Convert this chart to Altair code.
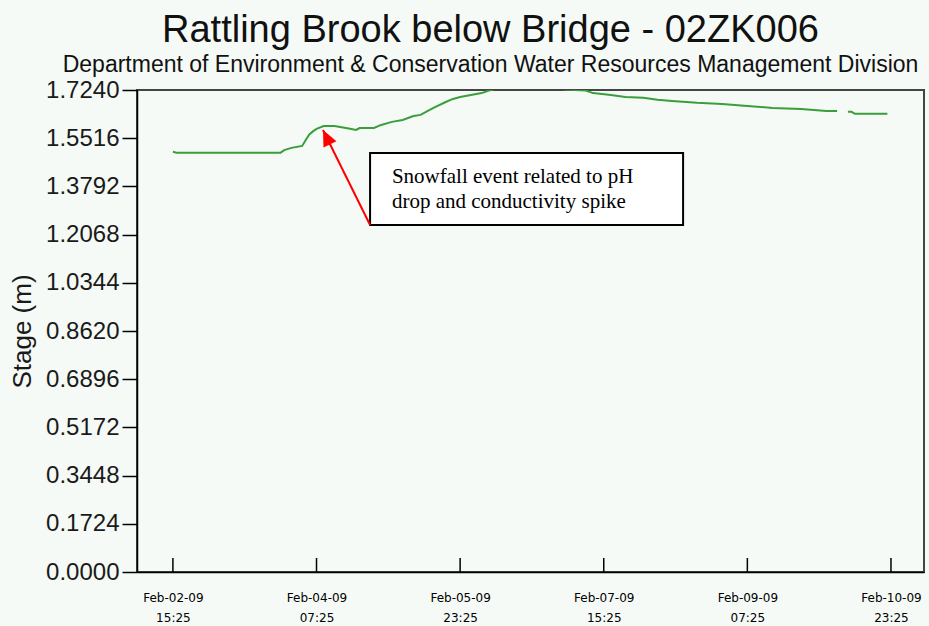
import altair as alt
import pandas as pd

# Stage record, Rattling Brook below Bridge (UTC timestamps, metres)
stamp_times = [
    "2009-02-02T15:25", "2009-02-02T16:25", "2009-02-03T21:25", "2009-02-03T22:25",
    "2009-02-04T00:25", "2009-02-04T03:25", "2009-02-04T04:25", "2009-02-04T05:25",
    "2009-02-04T06:25", "2009-02-04T07:25", "2009-02-04T09:25", "2009-02-04T12:25",
    "2009-02-04T14:25", "2009-02-04T16:25", "2009-02-04T18:25", "2009-02-04T19:25",
    "2009-02-04T23:25", "2009-02-05T01:25", "2009-02-05T04:25", "2009-02-05T07:25",
    "2009-02-05T10:25", "2009-02-05T12:25", "2009-02-05T14:25", "2009-02-05T16:25",
    "2009-02-05T19:25", "2009-02-05T21:25", "2009-02-05T23:25", "2009-02-06T02:25",
    "2009-02-06T05:25", "2009-02-06T07:25", "2009-02-06T11:25", "2009-02-06T16:25",
    "2009-02-06T21:25", "2009-02-07T01:25", "2009-02-07T04:25", "2009-02-07T10:25",
    "2009-02-07T12:25", "2009-02-07T17:25", "2009-02-07T21:25", "2009-02-08T02:25",
    "2009-02-08T06:25", "2009-02-08T10:25", "2009-02-08T17:25", "2009-02-09T00:25",
    "2009-02-09T07:25", "2009-02-09T14:25", "2009-02-09T22:25", "2009-02-10T05:25",
    "2009-02-10T08:25", "2009-02-10T09:25", "2009-02-10T11:25", "2009-02-10T12:25",
    "2009-02-10T13:25", "2009-02-10T22:25",
]
stage_m = [
    1.503, 1.500, 1.500, 1.509,
    1.517, 1.524, 1.545, 1.565,
    1.576, 1.585, 1.595, 1.595,
    1.591, 1.586, 1.581, 1.588,
    1.588, 1.599, 1.610, 1.617,
    1.631, 1.635, 1.649, 1.663,
    1.681, 1.692, 1.699, 1.706,
    1.713, 1.722, 1.735, 1.748,
    1.755, 1.746, 1.726, 1.722,
    1.713, 1.706, 1.699, 1.696,
    1.689, 1.685, 1.678, 1.674,
    1.667, 1.660, 1.656, 1.649,
    1.649, None, 1.646, 1.646,
    1.639, 1.639,
]

# Axis ticks
x_tick_times = [
    "2009-02-02T15:25", "2009-02-04T07:25", "2009-02-05T23:25",
    "2009-02-07T15:25", "2009-02-09T07:25", "2009-02-10T23:25",
]
y_tick_values = [0.0, 0.1724, 0.3448, 0.5172, 0.6896, 0.8620,
                 1.0344, 1.2068, 1.3792, 1.5516, 1.7240]
x_domain = ["2009-02-02T05:25", "2009-02-11T08:37"]

# Annotation (anchored in data coordinates)
note_lines = ["Snowfall event related to pH", "drop and conductivity spike"]
note_line_y = [1.3915, 1.302]
note_text_x = "2009-02-05T04:25"
note_box_x = ["2009-02-04T22:20", "2009-02-08T13:31"]
note_box_y = [1.2412, 1.4988]
arrow_tip = ("2009-02-04T09:13", 1.581)


def utc(series):
    return pd.to_datetime(pd.Series(series), utc=True)


def dt(s):
    t = pd.Timestamp(s)
    return alt.DateTime(year=t.year, month=t.month, date=t.day,
                        hours=t.hour, minutes=t.minute, utc=True)


stage = pd.DataFrame({"time": utc(stamp_times), "stage": stage_m})
stage["segment"] = stage["stage"].isna().cumsum()
stage = stage.dropna()

minor_ticks = []
for a, b in zip(y_tick_values[:-1], y_tick_values[1:]):
    minor_ticks += [a, round((a + b) / 2, 4)]
minor_ticks.append(y_tick_values[-1])

FONT = "Liberation Sans"
TEXT = "#1a1a1a"

x_scale = alt.Scale(type="utc", domain=[dt(d) for d in x_domain])
y_scale = alt.Scale(domain=[0, 1.724], nice=False, zero=False)

x_axis = alt.Axis(
    title=None,
    values=[dt(t) for t in x_tick_times],
    labelExpr="[utcFormat(datum.value, '%b-%d-%y'), utcFormat(datum.value, '%H:%M')]",
    labelFont="DejaVu Sans", labelFontSize=12, labelColor="#000000",
    labelLineHeight=20, labelBaseline="top", labelPadding=20,
    ticks=False, grid=False, domainColor="#000000", domainWidth=1.5,
    labelFlush=False, labelOverlap=False,
)
y_axis = alt.Axis(
    title="Stage (m)",
    values=minor_ticks,
    labelExpr="round(datum.value / 0.0862) % 2 === 0 ? format(datum.value, '.4f') : ''",
    tickSize={"condition": {"test": "round(datum.value / 0.0862) % 2 === 0", "value": 15},
              "value": 11},
    tickColor="#000000", tickWidth=1.5,
    labelFont=FONT, labelFontSize=24, labelColor=TEXT, labelPadding=3,
    titleFont=FONT, titleFontSize=26, titleFontWeight="normal", titleColor=TEXT,
    titlePadding=10, grid=False, domainColor="#000000", domainWidth=1.5,
    labelFlush=False, labelOverlap=False,
)

line = alt.Chart(stage).mark_line(color="#3a9e3a", strokeWidth=2, clip=True).encode(
    x=alt.X("time:T", scale=x_scale, axis=x_axis),
    y=alt.Y("stage:Q", scale=y_scale, axis=y_axis),
    detail="segment:N",
)

# Inward tick marks on the time axis
xticks = alt.Chart(pd.DataFrame({"time": utc(x_tick_times)})).mark_rule(
    color="#000000", strokeWidth=1.5
).encode(x="time:T", y=alt.value(482), y2=alt.value(468))

box = alt.Chart(pd.DataFrame({
    "x": utc([note_box_x[0]]), "x2": utc([note_box_x[1]]),
    "y": [note_box_y[0]], "y2": [note_box_y[1]],
})).mark_rect(fill="#ffffff", stroke="#000000", strokeWidth=2).encode(
    x="x:T", x2="x2:T", y="y:Q", y2="y2:Q"
)

arrow_line = alt.Chart(pd.DataFrame({
    "x": utc([note_box_x[0]]), "y": [note_box_y[0]],
    "x2": utc([arrow_tip[0]]), "y2": [arrow_tip[1]],
})).mark_rule(color="#ff0000", strokeWidth=2).encode(
    x="x:T", y="y:Q", x2="x2:T", y2="y2:Q"
)

arrow_head = alt.Chart(pd.DataFrame({
    "x": utc([arrow_tip[0]]), "y": [arrow_tip[1]],
})).mark_point(
    shape="M0,0L-0.9,2L0.9,2Z", size=256, filled=True, color="#ff0000",
    opacity=1, angle=334,
).encode(x="x:T", y="y:Q")

note = alt.Chart(pd.DataFrame({
    "x": utc([note_text_x] * 2), "y": note_line_y, "text": note_lines,
})).mark_text(
    font="Liberation Serif", fontSize=21, align="left", baseline="alphabetic",
    color="#000000",
).encode(x="x:T", y="y:Q", text="text:N")

chart = alt.layer(line, xticks, box, arrow_line, arrow_head, note).properties(
    width=787,
    height=482,
    background="#f5faf6",
    padding={"left": 137, "top": 90, "right": 5, "bottom": 54},
    autosize=alt.AutoSizeParams(type="none"),
    title=alt.TitleParams(
        text="Rattling Brook below Bridge - 02ZK006",
        subtitle="Department of Environment & Conservation Water Resources Management Division",
        font=FONT, fontSize=38, fontWeight="normal", color="#111111",
        subtitleFont=FONT, subtitleFontSize=23, subtitleColor="#111111",
        subtitlePadding=4, anchor="middle", dx=-40, offset=1,
    ),
).configure_view(stroke="#444444", strokeWidth=2)

chart.save("out.html", embed_options={"renderer": "svg", "actions": False})
